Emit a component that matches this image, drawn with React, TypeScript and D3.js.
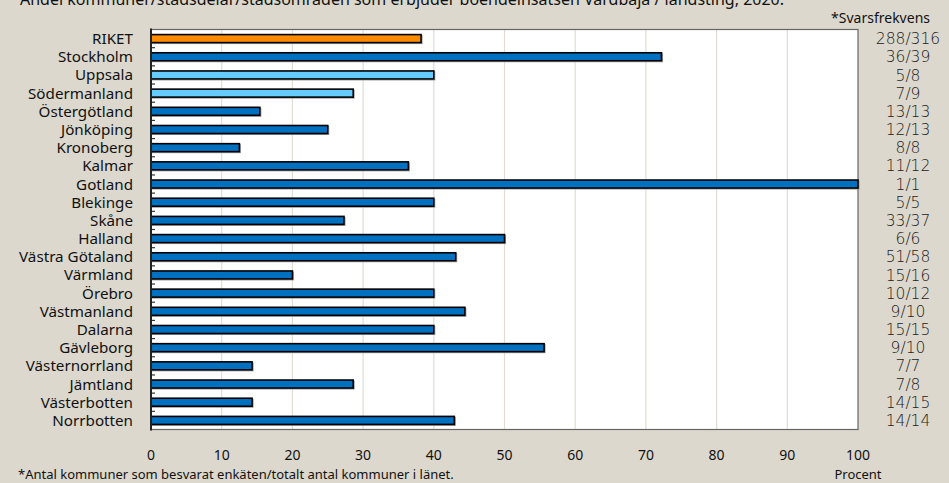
import React from "react";
import * as d3 from "d3";

const categories = ["RIKET","Stockholm","Uppsala","Södermanland","Östergötland","Jönköping","Kronoberg","Kalmar","Gotland","Blekinge","Skåne","Halland","Västra Götaland","Värmland","Örebro","Västmanland","Dalarna","Gävleborg","Västernorrland","Jämtland","Västerbotten","Norrbotten"];
const values = [38.2,72.2,40,28.6,15.4,25,12.5,36.4,100,40,27.3,50,43.1,20,40,44.4,40,55.6,14.3,28.6,14.3,42.9];
const colorGroup = ["riket","dark","light","light","dark","dark","dark","dark","dark","dark","dark","dark","dark","dark","dark","dark","dark","dark","dark","dark","dark","dark"];
const responseRates = ["288/316","36/39","5/8","7/9","13/13","12/13","8/8","11/12","1/1","5/5","33/37","6/6","51/58","15/16","10/12","9/10","15/15","9/10","7/7","7/8","14/15","14/14"];
const xTicks = [0,10,20,30,40,50,60,70,80,90,100];

const title = "Andel kommuner/stadsdelar/stadsområden som erbjuder boendeinsatsen Värdbaja / landsting, 2020.";
const footnote = "*Antal  kommuner som besvarat enkäten/totalt antal kommuner i länet.";

const W = 949, H = 483;
const left = 151, right = 858, top = 29.5, bottom = 429.5;
const colors: Record<string, string> = { riket: "#FF8C00", dark: "#0070C0", light: "#66CCFF" };
const labelFont = "'Noto Sans', 'Open Sans', sans-serif";

export default function App() {
  const x = d3.scaleLinear().domain([0, 100]).range([left, right]);
  const y = d3.scaleBand<string>().domain(categories).range([top, bottom]).paddingInner(0).paddingOuter(0);
  const bw = y.bandwidth();
  const barH = 8;
  return (
    <svg width={W} height={H} style={{ position: "absolute", left: 0, top: 0, display: "block" }}>
      <rect x={0} y={0} width={W} height={H} fill="#dcd8cd" />
      <text x={20} y={5} fontFamily={labelFont} fontSize={16} fill="#111">{title}</text>
      <text x={930} y={23} textAnchor="end" fontFamily={labelFont} fontSize={14} fill="#111">*Svarsfrekvens</text>
      <rect x={left} y={top} width={right - left} height={bottom - top} fill="#ffffff" />
      {xTicks.slice(1, -1).map(t => (
        <line key={t} x1={x(t)} x2={x(t)} y1={top} y2={bottom} stroke="#e2ddd3" strokeWidth={1.2} />
      ))}
      <rect x={left} y={top} width={right - left} height={bottom - top} fill="none" stroke="#666" strokeWidth={1.2} />
      {categories.map((c, i) => {
        const yc = (y(c) as number) + bw / 2;
        return (
          <g key={c}>
            <rect x={x(0) + 1} y={yc - barH / 2 + 1} width={x(values[i]) - x(0)} height={barH} fill="none" stroke="#9a9a9a" strokeWidth={1} />
            <rect x={x(0)} y={yc - barH / 2} width={x(values[i]) - x(0)} height={barH} fill={colors[colorGroup[i]]} stroke="#000" strokeWidth={1.6} />
          </g>
        );
      })}
      {categories.slice(1).map(c => (
        <line key={c} x1={left} x2={left + 4} y1={y(c) as number} y2={y(c) as number} stroke="#333" strokeWidth={1.2} />
      ))}
      <line x1={left} x2={left} y1={top - 1} y2={bottom + 1} stroke="#222" strokeWidth={2} />
      {categories.map(c => (
        <text key={c} x={133} y={(y(c) as number) + bw / 2} dy="0.36em" textAnchor="end" fontFamily={labelFont} fontSize={15.2} fill="#111">{c}</text>
      ))}
      {categories.map((c, i) => (
        <text key={c} x={908} y={(y(c) as number) + bw / 2} dy="0.36em" textAnchor="middle" fontFamily="'DejaVu Sans', sans-serif" fontSize={15.5} fontWeight={300} fill="#222">{responseRates[i]}</text>
      ))}
      {xTicks.map(t => (
        <text key={t} x={x(t)} y={455} dy="0.36em" textAnchor="middle" fontFamily={labelFont} fontSize={14} fill="#111">{t}</text>
      ))}
      <text x={x(100)} y={474} dy="0.36em" textAnchor="middle" fontFamily={labelFont} fontSize={13} fill="#111">Procent</text>
      <text x={18} y={474} dy="0.36em" fontFamily={labelFont} fontSize={13} fill="#111">{footnote}</text>
    </svg>
  );
}
